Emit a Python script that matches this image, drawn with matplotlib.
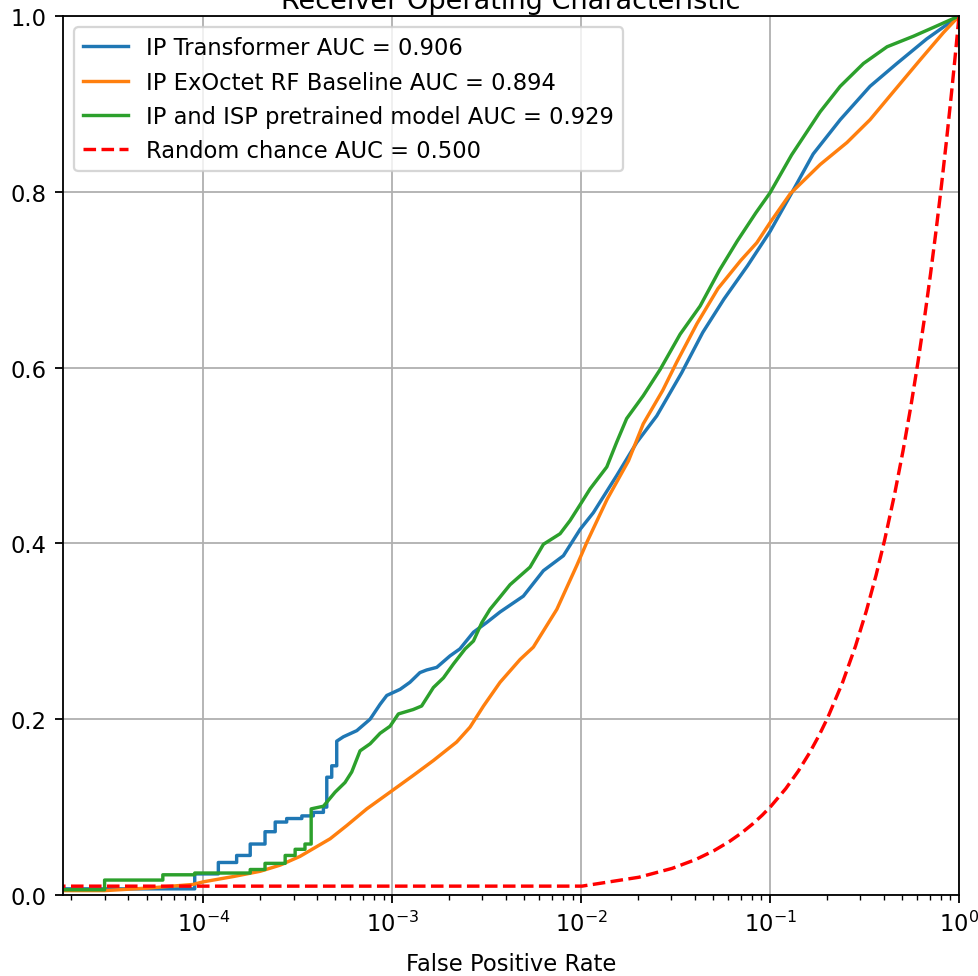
import matplotlib
matplotlib.use("Agg")
import matplotlib.pyplot as plt

# values (fpr on a log axis, tpr linear)
transformer_fpr = [0.0, 0.0, 9.0e-5, 9.0e-5, 1.2e-4, 1.2e-4, 1.5e-4, 1.5e-4, 1.77e-4, 1.77e-4,
                   2.12e-4, 2.12e-4, 2.40e-4, 2.40e-4, 2.76e-4, 2.76e-4, 3.32e-4, 3.32e-4, 3.82e-4, 3.82e-4,
                   4.32e-4, 4.32e-4, 4.50e-4, 4.50e-4, 4.78e-4, 4.78e-4, 5.08e-4, 5.08e-4, 5.51e-4, 6.49e-4,
                   7.63e-4, 8.62e-4, 9.35e-4, 1.10e-3, 1.24e-3, 1.40e-3, 1.52e-3, 1.72e-3, 2.02e-3, 2.28e-3,
                   2.69e-3, 3.16e-3, 3.72e-3, 4.94e-3, 6.31e-3, 8.05e-3, 9.87e-3, 1.16e-2, 1.54e-2, 1.97e-2,
                   2.51e-2, 3.40e-2, 4.40e-2, 5.70e-2, 7.60e-2, 0.1, 0.128, 0.169, 0.235, 0.338,
                   0.469, 0.675, 1.0]
transformer_tpr = [0.0, 0.007, 0.007, 0.024, 0.024, 0.037, 0.037, 0.045, 0.045, 0.058,
                   0.058, 0.072, 0.072, 0.083, 0.083, 0.087, 0.087, 0.090, 0.090, 0.094,
                   0.094, 0.100, 0.100, 0.134, 0.134, 0.147, 0.147, 0.175, 0.180, 0.187,
                   0.200, 0.217, 0.227, 0.234, 0.242, 0.253, 0.256, 0.259, 0.272, 0.280,
                   0.299, 0.310, 0.322, 0.340, 0.369, 0.386, 0.416, 0.435, 0.477, 0.515,
                   0.545, 0.594, 0.640, 0.678, 0.716, 0.755, 0.796, 0.843, 0.882, 0.920,
                   0.946, 0.974, 1.0]

baseline_fpr = [0.0, 0.0, 3.0e-5, 5.2e-5, 8.8e-5, 1.0e-4, 1.44e-4, 2.0e-4, 2.55e-4, 3.25e-4,
                4.69e-4, 5.74e-4, 7.33e-4, 9.73e-4, 1.29e-3, 1.65e-3, 2.19e-3, 2.58e-3, 3.04e-3, 3.72e-3,
                4.75e-3, 5.58e-3, 7.43e-3, 9.48e-3, 1.07e-2, 1.37e-2, 1.78e-2, 2.13e-2, 2.70e-2, 3.20e-2,
                4.10e-2, 5.30e-2, 7.00e-2, 8.50e-2, 0.1, 0.128, 0.184, 0.255, 0.338, 0.450,
                0.622, 0.826, 1.0]
baseline_tpr = [0.0, 0.004, 0.005, 0.008, 0.012, 0.015, 0.021, 0.027, 0.034, 0.044,
                0.064, 0.079, 0.098, 0.117, 0.136, 0.153, 0.174, 0.191, 0.215, 0.242,
                0.268, 0.282, 0.325, 0.375, 0.401, 0.450, 0.494, 0.536, 0.574, 0.606,
                0.650, 0.690, 0.722, 0.742, 0.765, 0.798, 0.831, 0.856, 0.882, 0.914,
                0.950, 0.981, 1.0]

pretrained_fpr = [0.0, 0.0, 3.0e-5, 3.0e-5, 6.1e-5, 6.1e-5, 9.0e-5, 9.0e-5, 1.77e-4, 1.77e-4,
                  2.12e-4, 2.12e-4, 2.71e-4, 2.71e-4, 3.06e-4, 3.06e-4, 3.45e-4, 3.45e-4, 3.72e-4, 3.72e-4,
                  4.32e-4, 4.98e-4, 5.62e-4, 6.10e-4, 6.75e-4, 7.63e-4, 8.62e-4, 9.73e-4, 1.077e-3, 1.29e-3,
                  1.43e-3, 1.65e-3, 1.865e-3, 2.11e-3, 2.43e-3, 2.69e-3, 2.98e-3, 3.29e-3, 3.72e-3, 4.20e-3,
                  5.36e-3, 6.31e-3, 7.73e-3, 8.73e-3, 9.87e-3, 1.114e-2, 1.366e-2, 1.54e-2, 1.74e-2, 2.13e-2,
                  2.62e-2, 3.34e-2, 4.26e-2, 5.40e-2, 6.70e-2, 8.40e-2, 0.1, 0.13, 0.184, 0.235,
                  0.312, 0.416, 0.574, 0.732, 1.0]
pretrained_tpr = [0.0, 0.006, 0.006, 0.017, 0.017, 0.023, 0.023, 0.025, 0.025, 0.029,
                  0.029, 0.036, 0.036, 0.045, 0.045, 0.052, 0.052, 0.058, 0.058, 0.098,
                  0.101, 0.117, 0.128, 0.140, 0.164, 0.172, 0.184, 0.192, 0.206, 0.211,
                  0.215, 0.236, 0.247, 0.263, 0.280, 0.289, 0.310, 0.325, 0.339, 0.353,
                  0.373, 0.399, 0.411, 0.426, 0.444, 0.462, 0.487, 0.515, 0.542, 0.568,
                  0.598, 0.638, 0.670, 0.711, 0.744, 0.776, 0.799, 0.842, 0.891, 0.920,
                  0.946, 0.965, 0.977, 0.987, 1.0]

# random chance diagonal, tpr equals fpr
random_fpr = [0.0, 0.0101, 0.0202, 0.0303, 0.0404, 0.0505, 0.0606, 0.0707, 0.0808, 0.0909,
              0.101, 0.121, 0.141, 0.162, 0.182, 0.202, 0.242, 0.283, 0.323, 0.364,
              0.404, 0.455, 0.505, 0.556, 0.606, 0.657, 0.707, 0.758, 0.808, 0.859,
              0.909, 0.949, 0.980, 1.0]
random_tpr = list(random_fpr)

auc_transformer = 0.906
auc_baseline = 0.894
auc_pretrained = 0.929
auc_random = 0.500


def main():
	fig = plt.figure(figsize=(978 / 163, 977 / 163), dpi=163)
	ax = fig.add_axes([0.0641, 0.0829, 0.9165, 0.8997])

	ax.plot(transformer_fpr, transformer_tpr, label='IP Transformer AUC = %0.3f' % auc_transformer)
	ax.plot(baseline_fpr, baseline_tpr, label='IP ExOctet RF Baseline AUC = %0.3f' % auc_baseline)
	ax.plot(pretrained_fpr, pretrained_tpr, label='IP and ISP pretrained model AUC = %0.3f' % auc_pretrained)
	ax.plot(random_fpr, random_tpr, 'r--', label='Random chance AUC = %0.3f' % auc_random)

	ax.set_xscale('log')
	ax.set_xlim(1.8e-5, 1)
	ax.set_ylim(0, 1)
	ax.set_title('Receiver Operating Characteristic', pad=3.5)
	ax.set_xlabel('False Positive Rate', labelpad=7)
	ax.grid(True)
	ax.legend(loc='upper left')

	fig.savefig('out.png', dpi=163)


if __name__ == "__main__":
	main()
